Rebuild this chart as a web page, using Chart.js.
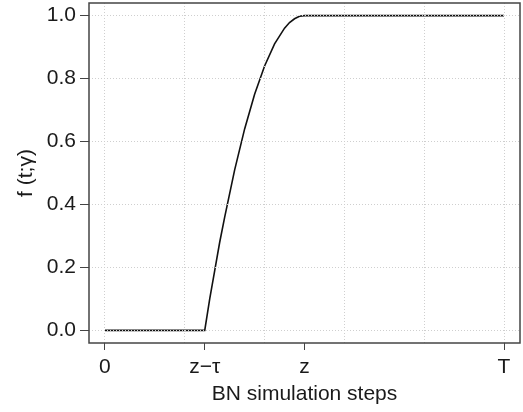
<!DOCTYPE html>
<html>
<head>
<meta charset="utf-8">
<script src="https://cdn.jsdelivr.net/npm/chart.js@4"></script>
<style>
  html, body { margin: 0; padding: 0; background: #fff; }
  #wrap { width: 523px; height: 412px; }
</style>
</head>
<body>
<div id="wrap"><canvas id="fChart"></canvas></div>
<script>
// valores (eje x en unidades de 0..T, T = 100)
const stepsX = [0, 25, 26.25, 27.5, 28.75, 30, 32.5, 35, 37.5, 40, 42.5, 45, 46.25, 47.5, 48.75, 50, 100];
const fValues = [0, 0, 0.10, 0.19, 0.28, 0.36, 0.51, 0.64, 0.75, 0.84, 0.91, 0.96, 0.978, 0.99, 0.998, 1.0, 1.0];

const xTickValues = [0, 25, 50, 100];
const xTickLabels = ['0', 'z\u2212\u03c4', 'z', 'T'];
const xGridValues = [0, 20, 40, 60, 80, 100];
const yTickValues = [0, 0.2, 0.4, 0.6, 0.8, 1.0];

const FONT = '"Liberation Sans", Arial, Helvetica, sans-serif';
const TXT = '#1a1a1a';

// marco alrededor del área de dibujo
const framePlugin = {
    id: 'frame',
    afterDraw(chart) {
        const { ctx, chartArea: a } = chart;
        ctx.save();
        ctx.strokeStyle = '#444';
        ctx.lineWidth = 1.5;
        ctx.strokeRect(a.left, a.top, a.right - a.left, a.bottom - a.top);
        ctx.restore();
    }
};

// sin margen extra por las etiquetas de los extremos
function noEdgePadding(s) {
    s.paddingTop = 0;
    s.paddingBottom = 0;
    s.paddingLeft = 0;
    s.paddingRight = 0;
}

const points = stepsX.map((x, i) => ({ x, y: fValues[i] }));

new Chart(document.getElementById('fChart'), {
    type: 'line',
    data: {
        datasets: [{
            data: points,
            borderColor: '#111',
            borderWidth: 1.6,
            pointRadius: 0,
            fill: false,
            tension: 0
        }]
    },
    options: {
        responsive: true,
        maintainAspectRatio: false,
        animation: false,
        layout: { padding: { top: 3, right: 3, left: 0, bottom: 0 } },
        plugins: { legend: { display: false }, tooltip: { enabled: false } },
        scales: {
            x: {
                type: 'linear',
                position: 'bottom',
                min: -4,
                max: 104,
                afterBuildTicks: s => { s.ticks = xTickValues.map(v => ({ value: v })); },
                afterFit: s => { s.height = 69; noEdgePadding(s); },
                ticks: {
                    autoSkip: false,
                    maxRotation: 0,
                    padding: 5,
                    color: TXT,
                    font: { family: FONT, size: 21 },
                    callback: (v) => xTickLabels[xTickValues.indexOf(v)]
                },
                grid: {
                    drawOnChartArea: false,
                    drawTicks: true,
                    tickLength: 7,
                    tickColor: '#444',
                    tickWidth: 1
                },
                border: { display: false },
                title: {
                    display: true,
                    text: 'BN simulation steps',
                    color: TXT,
                    font: { family: FONT, size: 21 },
                    padding: { top: 0, bottom: 5 }
                }
            },
            xg: {
                type: 'linear',
                position: 'bottom',
                min: -4,
                max: 104,
                afterBuildTicks: s => { s.ticks = xGridValues.map(v => ({ value: v })); },
                afterFit: s => { s.height = 0; noEdgePadding(s); },
                ticks: { display: false },
                grid: { color: '#cfcfcf', lineWidth: 1, drawTicks: false, z: 1 },
                border: { display: false, dash: [1, 2] }
            },
            y: {
                min: -0.04,
                max: 1.04,
                afterBuildTicks: s => { s.ticks = yTickValues.map(v => ({ value: v })); },
                afterFit: s => { s.width = 89; noEdgePadding(s); },
                ticks: {
                    padding: 4,
                    color: TXT,
                    font: { family: FONT, size: 21 },
                    callback: v => Number(v).toFixed(1)
                },
                grid: {
                    color: '#cfcfcf',
                    lineWidth: 1,
                    drawTicks: true,
                    tickLength: 9,
                    tickColor: '#444',
                    tickWidth: 1,
                    tickBorderDash: [],
                    z: 1
                },
                border: { display: false, dash: [1, 2] },
                title: {
                    display: true,
                    text: 'f (t;\u03b3)',
                    color: TXT,
                    font: { family: FONT, size: 21 },
                    padding: { top: 14, bottom: 0 }
                }
            }
        }
    },
    plugins: [framePlugin]
});
</script>
</body>
</html>
